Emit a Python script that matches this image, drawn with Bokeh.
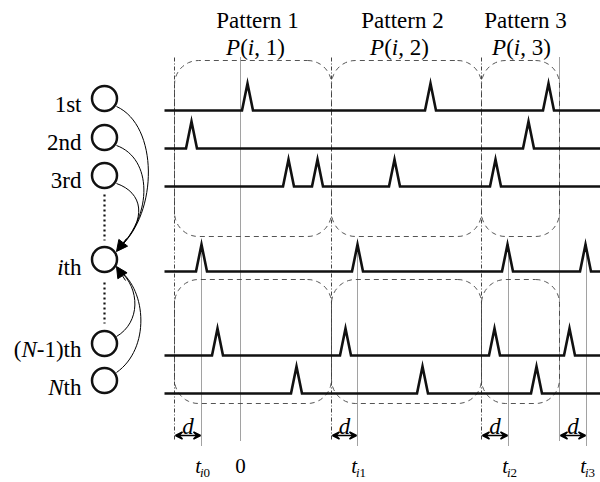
import numpy as np
from bokeh.plotting import figure
from bokeh.models import Arrow, NormalHead, VeeHead
from bokeh.core.properties import value
from bokeh.embed import file_html
from bokeh.resources import INLINE

# ---------------- data ----------------
neuron_labels = [[("1st", "normal")], [("2nd", "normal")], [("3rd", "normal")],
                 [("i", "italic"), ("th", "normal")],
                 [("(", "normal"), ("N", "italic"), ("-1)th", "normal")],
                 [("N", "italic"), ("th", "normal")]]
neuron_y = [98, 137, 175, 259, 343, 380]
label_baseline = [104, 142, 180, 267, 349, 387]
train_y = [110, 148, 186, 271, 355, 393]
spike_times = [
    [247, 430, 548],
    [191, 528],
    [288, 317, 394, 495],
    [201, 357, 507, 585],
    [217, 345, 494, 569],
    [296, 422, 536],
]
pattern_names = ["Pattern 1", "Pattern 2", "Pattern 3"]
pattern_idx = ["1", "2", "3"]
pattern_cx = [257, 402, 525]
boundaries = [174, 331, 481, 559]
onset_times = [201, 357, 508, 586]
onset_sub = ["i0", "i1", "i2", "i3"]
zero_time = 240

FONT = value("Liberation Serif")
FS = 23
W_REG = {'(': .333, ')': .333, ',': .25, ' ': .25, '1': .5, '2': .5, '3': .5,
         '-': .333, 't': .278, 'h': .5, 's': .389, 'n': .5, 'd': .5, 'r': .333}
W_IT = {'P': .611, 'i': .278, 'N': .667, 't': .278, 'd': .5}


def width(s, style, fs=FS):
    tab = W_IT if style == "italic" else W_REG
    return sum(tab.get(c, .5) for c in s) * fs


p = figure(width=600, height=482, x_range=(0, 600), y_range=(482, 0),
           min_border=0, toolbar_location=None, output_backend="svg",
           x_axis_location=None, y_axis_location=None)
p.grid.visible = False
p.outline_line_color = None
p.background_fill_color = "white"


def put_pieces(pieces, x_left, y, fs=FS):
    x = x_left
    for s, st in pieces:
        p.text(x=[x], y=[y], text=[s], text_font=FONT, text_font_size=f"{fs}px",
               text_font_style=st, text_align="left", text_baseline="alphabetic",
               text_color="black")
        x += width(s, st, fs)


# ---------------- rounded dashed boxes ----------------
def rounded(x0, x1, y0, y1, r):
    xs, ys = [], []
    corners = [((x1 - r, y0 + r), -np.pi / 2, 0),
               ((x1 - r, y1 - r), 0, np.pi / 2),
               ((x0 + r, y1 - r), np.pi / 2, np.pi),
               ((x0 + r, y0 + r), np.pi, 1.5 * np.pi)]
    for (cx, cy), a0, a1 in corners:
        a = np.linspace(a0, a1, 12)
        xs += list(cx + r * np.cos(a))
        ys += list(cy + r * np.sin(a))
    xs.append(xs[0]); ys.append(ys[0])
    return xs, ys

for y0, y1 in [(60, 236), (279, 403)]:
    for k in range(3):
        bx, by = rounded(boundaries[k], boundaries[k + 1], y0, y1, 24)
        p.line(bx, by, line_color="#555555", line_width=1, line_dash="5 4")

# ---------------- vertical guide lines ----------------
for k, xb in enumerate(boundaries):
    dash = "4 2 1 2" if k < 3 else "1 1"
    p.line([xb, xb], [57, 440], line_color="#444444", line_width=1, line_dash=dash)
p.line([zero_time, zero_time], [57, 440], line_color="#444444", line_width=1, line_dash="1 1")
for xt in onset_times:
    p.line([xt, xt], [244, 446], line_color="#444444", line_width=1, line_dash="1 1")

# ---------------- spike trains ----------------
H, HW = 27, 5.5
for yb, ts in zip(train_y, spike_times):
    xs, ys = [164], [yb]
    for t in sorted(ts):
        xs += [t - HW, t, t + HW]
        ys += [yb, yb - H, yb]
    xs.append(600); ys.append(yb)
    p.line(xs, ys, line_color="#111111", line_width=2.6, line_join="miter")

# ---------------- neurons ----------------
p.scatter(x=[104] * len(neuron_y), y=neuron_y, size=25, marker="circle",
          fill_color="white", line_color="#111111", line_width=2.5)
for pieces, yb in zip(neuron_labels, label_baseline):
    tot = sum(width(s, st) for s, st in pieces)
    put_pieces(pieces, 81 - tot, yb)

# dotted ellipsis between neurons
p.line([104, 104], [194, 240], line_color="#111111", line_width=2.2, line_dash="2 3")
p.line([104, 104], [282, 323], line_color="#111111", line_width=2.2, line_dash="2 3")

# connection curves
p.bezier(x0=[116, 116, 116], y0=[106, 145, 183], x1=[119, 119, 119], y1=[247, 247, 247],
         cx0=[158, 152, 142], cy0=[125, 158, 192], cx1=[158, 152, 148], cy1=[212, 214, 218],
         line_color="black", line_width=1)
p.bezier(x0=[116, 116], y0=[336, 372], x1=[119, 119], y1=[270, 270],
         cx0=[140, 150], cy0=[322, 348], cx1=[140, 146], cy1=[288, 290],
         line_color="black", line_width=1)
p.add_layout(Arrow(end=NormalHead(size=11, fill_color="black", line_color="black"),
                   x_start=126, y_start=238, x_end=116, y_end=251,
                   line_color="black", line_width=1))
p.add_layout(Arrow(end=NormalHead(size=11, fill_color="black", line_color="black"),
                   x_start=125, y_start=280, x_end=116, y_end=266,
                   line_color="black", line_width=1))

# ---------------- top labels ----------------
p.text(x=pattern_cx, y=[20] * 3, text=pattern_names, text_font=FONT,
       text_font_size=f"{FS}px", text_align="center", text_baseline="alphabetic",
       text_color="black")
for cx, idx in zip([255, 399, 521], pattern_idx):
    pieces = [("P", "italic"), ("(", "normal"), ("i", "italic"), (", " + idx + ")", "normal")]
    tot = sum(width(s, st) for s, st in pieces)
    put_pieces(pieces, cx - tot / 2, 47)

# ---------------- delay arrows and time labels ----------------
for xb, xt, sub in zip(boundaries, onset_times, onset_sub):
    p.add_layout(Arrow(start=VeeHead(size=7, line_color="black", line_width=1.5),
                       end=VeeHead(size=7, line_color="black", line_width=1.5),
                       x_start=xb + 1, y_start=435, x_end=xt - 1, y_end=435,
                       line_color="black", line_width=1.5))
    p.text(x=[(xb + xt) / 2], y=[426], text=["d"], text_font=FONT, text_font_size="23px",
           text_font_style="italic", text_align="center", text_baseline="alphabetic",
           text_color="black")
    p.text(x=[xt - 0.5], y=[465], text=["t"], text_font=FONT, text_font_size="21px",
           text_font_style="italic", text_align="right", text_baseline="alphabetic",
           text_color="black")
    p.text(x=[xt - 1.5], y=[472], text=[sub[0]], text_font=FONT, text_font_size="13px",
           text_font_style="italic", text_align="left", text_baseline="alphabetic",
           text_color="black")
    p.text(x=[xt - 1.5 + 0.278 * 13], y=[472], text=[sub[1]], text_font=FONT,
           text_font_size="13px", text_align="left", text_baseline="alphabetic",
           text_color="black")
p.text(x=[zero_time], y=[465], text=["0"], text_font=FONT, text_font_size="21px",
       text_align="center", text_baseline="alphabetic", text_color="black")

open("out.html", "w").write(file_html(p, INLINE))
